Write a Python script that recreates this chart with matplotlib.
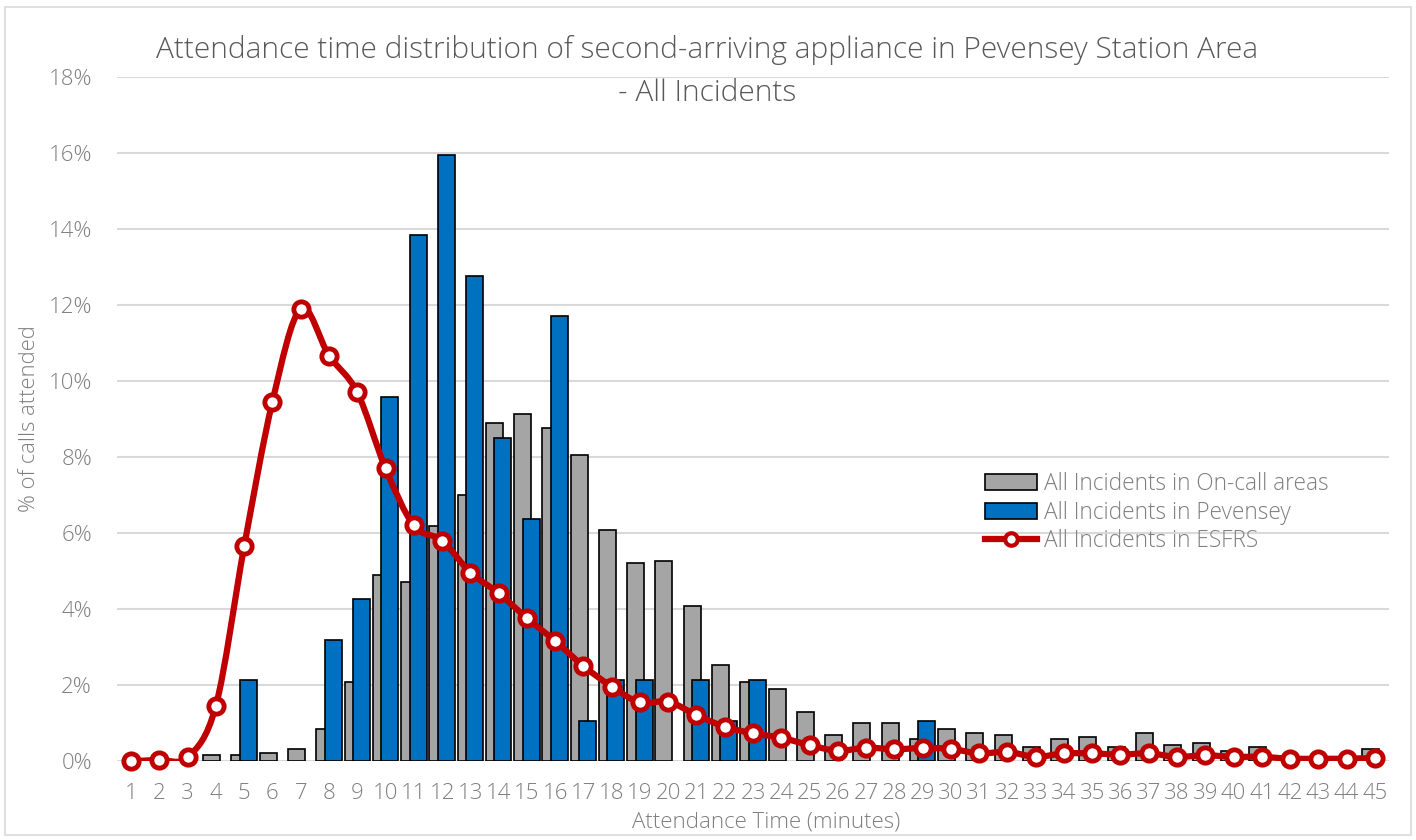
import numpy as np
import matplotlib
matplotlib.use('Agg')
import matplotlib.pyplot as plt
from matplotlib.path import Path
from matplotlib.patches import PathPatch, Rectangle, Patch
from matplotlib.lines import Line2D

plt.rcParams['font.family'] = ['Open Sans', 'DejaVu Sans']
plt.rcParams['font.weight'] = 'light'

minutes = list(range(1, 46))

# % of calls attended
oncall = [0, 0, 0, 0.16, 0.16, 0.21, 0.32, 0.84, 2.08, 4.9,
          4.71, 6.18, 7.0, 8.9, 9.12, 8.76, 8.04, 6.08, 5.21, 5.26,
          4.07, 2.53, 2.07, 1.9, 1.3, 0.68, 0.99, 0.99, 0.57, 0.83,
          0.73, 0.68, 0.36, 0.57, 0.62, 0.36, 0.73, 0.41, 0.47, 0.26,
          0.36, 0.1, 0.1, 0.1, 0.31]
pevensey = [0, 0, 0, 0, 2.13, 0, 0, 3.19, 4.26, 9.57,
            13.83, 15.96, 12.77, 8.51, 6.38, 11.70, 1.06, 2.13, 2.13, 0,
            2.13, 1.06, 2.13, 0, 0, 0, 0, 0, 1.06, 0,
            0, 0, 0, 0, 0, 0, 0, 0, 0, 0,
            0, 0, 0, 0, 0]
esfrs = [0.0, 0.03, 0.1, 1.46, 5.65, 9.46, 11.9, 10.67, 9.7, 7.7,
         6.2, 5.8, 4.96, 4.42, 3.76, 3.16, 2.5, 1.96, 1.54, 1.56,
         1.21, 0.9, 0.73, 0.61, 0.42, 0.27, 0.35, 0.31, 0.34, 0.32,
         0.2, 0.24, 0.11, 0.2, 0.2, 0.17, 0.2, 0.11, 0.15, 0.11,
         0.11, 0.06, 0.06, 0.06, 0.08]

labels = ['All Incidents in On-call areas', 'All Incidents in Pevensey', 'All Incidents in ESFRS']
title_1 = 'Attendance time distribution of second-arriving appliance in Pevensey Station Area'
title_2 = '- All Incidents'

GREY = '#A5A5A5'
BLUE = '#0070C0'
RED = '#C00000'
TXT = '#595959'
TICK = '#7F7F7F'
GRID = '#D9D9D9'

W, H = 1416, 840
fig = plt.figure(figsize=(W / 100, H / 100), dpi=100)
ax = fig.add_axes([117 / W, (H - 761) / H, (1389 - 117) / W, (761 - 77) / H])

x = np.array(minutes, dtype=float)
oc = np.array(oncall)
pv = np.array(pevensey)
es = np.array(esfrs)

ax.bar(x - 0.15, oc, width=0.6, color=GREY,
       edgecolor=['black' if v > 0 else 'none' for v in oc], linewidth=1.2, zorder=2)
ax.bar(x + 0.15, pv, width=0.6, color=BLUE,
       edgecolor=['black' if v > 0 else 'none' for v in pv], linewidth=1.2, zorder=3)

# smoothed line like Excel's "smoothed line" option (cubic bezier through the points)
pts = np.column_stack([x, es])
ext = np.vstack([pts[0], pts, pts[-1]])
verts = [tuple(pts[0])]
codes = [Path.MOVETO]
for i in range(len(pts) - 1):
    p0, p1, p2, p3 = ext[i], ext[i + 1], ext[i + 2], ext[i + 3]
    c1 = p1 + (p2 - p0) / 6.0
    c2 = p2 - (p3 - p1) / 6.0
    verts += [tuple(c1), tuple(c2), tuple(p2)]
    codes += [Path.CURVE4] * 3
ax.add_patch(PathPatch(Path(verts, codes), facecolor='none', edgecolor=RED,
                       linewidth=4.5, capstyle='round', joinstyle='round', zorder=4))
ax.plot(x, es, linestyle='none', marker='o', markersize=11, markerfacecolor='white',
        markeredgecolor=RED, markeredgewidth=3.5, zorder=5, clip_on=False)

ax.set_xlim(0.5, 45.5)
ax.set_ylim(0, 18)
ax.set_yticks(range(0, 19, 2))
ax.set_yticklabels([f'{v}%' for v in range(0, 19, 2)])
ax.set_xticks(minutes)
ax.set_xticklabels([str(m) for m in minutes])
ax.tick_params(axis='both', length=0, labelsize=16, colors=TICK)
ax.tick_params(axis='y', pad=18)
ax.tick_params(axis='x', pad=16)
for s in ax.spines.values():
    s.set_visible(False)
ax.grid(axis='y', color=GRID, linewidth=1.5, zorder=0)
ax.set_axisbelow(True)

handles = [Patch(facecolor=GREY, edgecolor='black', linewidth=1.2),
           Patch(facecolor=BLUE, edgecolor='black', linewidth=1.2),
           Line2D([0], [0], color=RED, linewidth=4.5, marker='o', markersize=9,
                  markerfacecolor='white', markeredgecolor=RED, markeredgewidth=3)]
leg = ax.legend(handles, labels, loc='upper left', bbox_to_anchor=(985 / W, 1 - 472 / H),
                bbox_transform=fig.transFigure, frameon=False, fontsize=16.3,
                handlelength=2.3, handletextpad=0.3, labelspacing=0.2,
                borderpad=0, borderaxespad=0)
for t in leg.get_texts():
    t.set_color(TICK)

fig.text(707 / W, 1 - 50 / H, title_1, ha='center', va='center', fontsize=21.5, color=TXT)
fig.text(707 / W, 1 - 93 / H, title_2, ha='center', va='center', fontsize=21.5, color=TXT)
fig.text(30 / W, 1 - 419 / H, '% of calls attended', rotation=90, ha='center', va='center',
         fontsize=15.8, color=TICK)
fig.text(766 / W, 1 - 822 / H, 'Attendance Time (minutes)', ha='center', va='center',
         fontsize=16, color=TICK)

fig.add_artist(Rectangle((5 / W, 5 / H), (W - 10) / W, (H - 12) / H, transform=fig.transFigure,
                         fill=False, edgecolor=GRID, linewidth=1.2))

fig.savefig('out.png', dpi=100)
